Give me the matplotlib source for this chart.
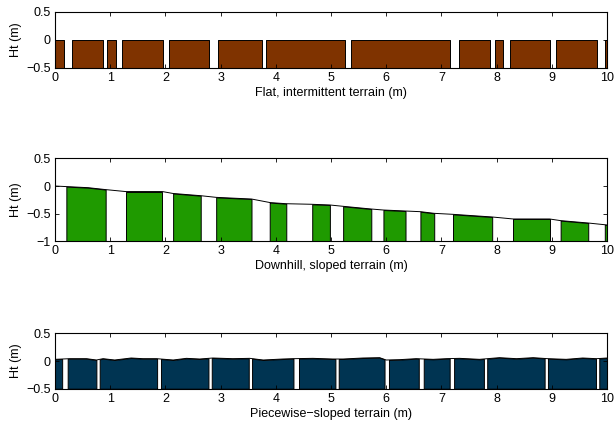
import numpy as np
import matplotlib
matplotlib.use("Agg")
import matplotlib.pyplot as plt

plt.rcParams['font.family'] = ['Liberation Sans', 'DejaVu Sans']
plt.rcParams['font.size'] = 9

# Terreno plano intermitente: tramos (inicio, fin) a altura 0
plano_ini = [0.0, 0.315, 0.95, 1.22, 2.065, 2.95, 3.83, 5.37, 7.32, 7.965, 8.24, 9.07, 9.96]
plano_fin = [0.158, 0.87, 1.10, 1.96, 2.79, 3.75, 5.25, 7.16, 7.875, 8.12, 8.97, 9.81, 10.0]
plano_alt = 0.0

# Terreno en pendiente: perfil y tramos
pend_x = [0.0, 0.2, 0.6, 0.92, 1.28, 1.945, 2.14, 2.64, 2.92, 3.56, 3.90, 4.19, 4.64,
          4.98, 5.22, 5.73, 5.95, 6.35, 6.62, 6.87, 7.21, 7.92, 8.30, 8.96, 9.16, 9.66, 9.96, 10.0]
pend_y = [0.0, -0.01, -0.03, -0.065, -0.10, -0.10, -0.135, -0.175, -0.205, -0.235, -0.30, -0.32, -0.33,
          -0.343, -0.367, -0.416, -0.434, -0.452, -0.464, -0.494, -0.512, -0.56, -0.596, -0.596, -0.626, -0.669, -0.70, -0.705]
pend_ini = [0.206, 1.28, 2.14, 2.92, 3.89, 4.66, 5.22, 5.95, 6.62, 7.21, 8.30, 9.16, 9.96]
pend_fin = [0.918, 1.945, 2.64, 3.56, 4.19, 4.98, 5.73, 6.35, 6.87, 7.92, 8.96, 9.66, 10.0]

# Terreno con pendientes por tramos
tramos_x = [0.0, 0.265, 0.57, 0.75, 0.87, 1.08, 1.38, 1.59, 1.84, 2.14, 2.38, 2.62, 2.86, 3.22, 3.53,
            3.77, 4.13, 4.31, 4.67, 5.03, 5.22, 5.58, 5.88, 6.0, 6.24, 6.54, 6.85, 7.09, 7.33, 7.69,
            8.05, 8.36, 8.66, 8.93, 9.26, 9.56, 9.81, 10.0]
tramos_y = [0.03, 0.042, 0.042, 0.018, 0.042, 0.018, 0.054, 0.042, 0.042, 0.018, 0.048, 0.036, 0.054,
            0.042, 0.048, 0.018, 0.036, 0.042, 0.048, 0.036, 0.036, 0.054, 0.06, 0.018, 0.024, 0.042,
            0.03, 0.042, 0.048, 0.03, 0.06, 0.042, 0.06, 0.042, 0.03, 0.054, 0.042, 0.054]
huecos_ini = [0.13, 0.75, 1.85, 2.78, 3.51, 4.32, 5.08, 5.97, 6.59, 7.15, 7.77, 8.87, 9.80]
huecos_fin = [0.23, 0.81, 1.92, 2.84, 3.57, 4.42, 5.14, 6.05, 6.68, 7.23, 7.83, 8.93, 9.86]

COLOR_PLANO = '#7f3300'
COLOR_PEND = '#1f9a00'
COLOR_TRAMOS = '#003452'


def rellenar(ax, px, py, a, b, fondo, color):
    xs = [a] + [x for x in px if a < x < b] + [b]
    ys = np.interp(xs, px, py)
    ax.fill_between(xs, ys, fondo, facecolor=color, edgecolor='k', linewidth=0.7)


def estilo(ax, ymin, yticks, etiqueta):
    ax.set_xlim(0, 10)
    ax.set_ylim(ymin, 0.5)
    ax.set_xticks(range(0, 11))
    ax.set_yticks(yticks)
    ax.set_yticklabels(['\u2212' + f'{abs(t):g}' if t < 0 else f'{t:g}' for t in yticks])
    ax.tick_params(direction='in', top=True, right=True, length=3, width=0.6, pad=3)
    for s in ax.spines.values():
        s.set_linewidth(0.8)
    ax.set_xlabel(etiqueta, labelpad=2)
    ax.set_ylabel('Ht (m)', labelpad=3)


fig = plt.figure(figsize=(6.15, 4.21), dpi=100)
ax1 = fig.add_axes([0.0894, 0.8385, 0.8976, 0.133])
ax2 = fig.add_axes([0.0894, 0.4268, 0.8976, 0.197])
ax3 = fig.add_axes([0.0894, 0.0767, 0.8976, 0.1316])

# Plano intermitente
for a, b in zip(plano_ini, plano_fin):
    ax1.fill_between([a, b], [plano_alt, plano_alt], -0.5, facecolor=COLOR_PLANO,
                     edgecolor='k', linewidth=0.7)
estilo(ax1, -0.5, [-0.5, 0, 0.5], 'Flat, intermittent terrain (m)')

# Pendiente
ax2.plot(pend_x, pend_y, color='k', linewidth=0.7)
for a, b in zip(pend_ini, pend_fin):
    rellenar(ax2, pend_x, pend_y, a, b, -1, COLOR_PEND)
estilo(ax2, -1, [-1, -0.5, 0, 0.5], 'Downhill, sloped terrain (m)')

# Pendientes por tramos
ax3.plot(tramos_x, tramos_y, color='k', linewidth=0.7)
bordes = [0.0] + huecos_fin
finales = huecos_ini + [10.0]
for a, b in zip(bordes, finales):
    rellenar(ax3, tramos_x, tramos_y, a, b, -0.5, COLOR_TRAMOS)
estilo(ax3, -0.5, [-0.5, 0, 0.5], 'Piecewise\u2212sloped terrain (m)')

fig.savefig('out.png', dpi=100)
